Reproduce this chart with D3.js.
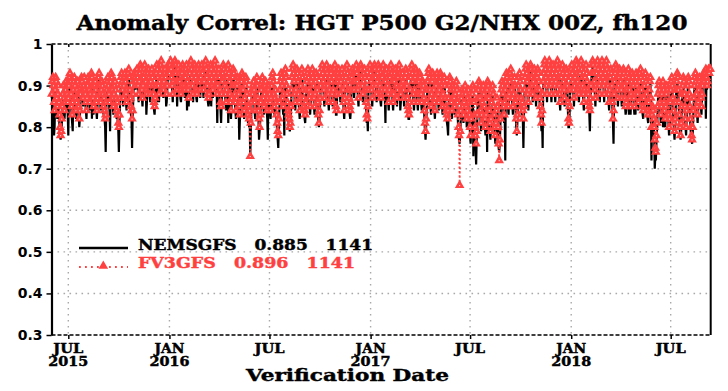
<!DOCTYPE html>
<html>
<head>
<meta charset="utf-8">
<script src="https://cdn.jsdelivr.net/npm/d3@7"></script>
<style>
  body { margin: 0; background: #fff; }
</style>
</head>
<body>
<div id="chart"></div>
<script>
// daily anomaly correlation x100, one month per line
// each year's array starts on Jan 1 (2015 starts on Jun 1)
const fv3_2015 = [
  88,91,92,90,86,84,89,92,91,87,85,88,90,86,83,80,78,79,82,85,88,90,87,84,86,89,91,90,88,86,
  87,90,92,93,91,88,85,83,86,89,91,92,90,87,84,86,89,91,88,85,82,84,88,90,92,91,89,87,90,92,89,
  88,86,84,87,90,92,91,89,86,88,91,93,92,90,87,85,88,90,91,89,86,84,87,90,92,93,90,88,86,89,91,
  90,88,85,87,84,82,83,86,89,91,92,90,88,86,89,91,93,92,89,87,85,88,90,91,89,87,84,86,83,81,
  80,83,87,90,92,93,91,89,87,90,92,93,91,88,86,89,92,93,94,92,89,87,85,84,82,84,88,91,93,92,90,
  91,93,94,92,90,88,91,93,95,94,92,89,87,90,92,94,95,93,91,89,88,90,93,94,92,90,88,91,93,94,
  92,90,88,86,85,87,90,93,95,94,92,90,88,91,93,95,96,94,92,90,89,91,93,94,92,90,88,90,93,95,94
]
const fv3_2016 = [
  93,95,96,94,92,90,88,91,93,95,96,95,93,91,89,91,94,95,93,91,89,88,90,93,95,94,92,90,89,92,94,
  95,93,91,89,87,90,93,95,96,94,92,90,88,91,93,95,94,92,89,88,91,94,95,93,91,89,92,94,95,
  93,91,89,91,94,95,96,94,92,90,88,87,88,91,93,95,94,92,90,89,91,93,95,96,94,92,90,88,90,93,94,
  92,89,86,85,88,91,93,95,94,92,90,88,86,89,92,94,95,93,91,88,86,84,87,90,92,94,93,90,88,86,
  84,87,90,92,91,88,85,83,86,89,91,93,92,89,86,84,87,90,92,91,88,85,83,85,82,84,73,81,86,89,88,
  90,91,89,86,84,87,90,92,90,87,84,82,80,83,86,89,91,92,90,87,85,88,90,91,89,86,84,87,89,90,
  88,86,84,87,90,92,93,91,88,85,87,89,86,83,81,79,78,82,86,89,91,93,92,90,87,85,88,91,93,94,92,
  90,88,86,84,83,82,80,81,85,89,92,94,95,93,91,88,86,89,92,94,93,91,88,86,84,87,90,93,94,92,89,
  87,85,84,83,86,89,91,93,94,92,89,87,85,88,91,93,94,92,90,87,85,88,91,93,92,89,86,83,81,84,
  87,90,92,94,95,93,91,89,87,90,92,94,95,93,90,88,86,89,92,94,93,91,88,86,89,92,94,95,93,85,84,
  88,91,93,94,92,90,88,91,93,94,92,89,86,84,87,90,92,94,95,93,91,89,87,85,84,86,89,92,94,93,
  91,89,91,93,94,95,93,91,89,87,90,92,94,95,94,92,90,88,91,93,94,92,89,86,83,82,85,89,92,94,95
]
const fv3_2017 = [
  93,91,89,87,90,92,94,95,94,92,90,88,91,93,95,94,92,90,88,87,89,92,94,95,93,91,89,91,93,94,92,
  90,88,86,89,92,94,95,93,91,88,86,88,91,93,94,92,90,87,89,92,94,95,93,90,88,90,92,93,
  91,89,87,90,92,94,93,90,87,85,84,83,86,89,92,94,95,93,91,88,86,89,92,94,93,91,88,86,88,91,93,
  92,90,88,86,89,91,90,87,84,81,79,82,86,89,91,93,94,92,89,87,85,88,91,93,92,89,86,84,87,90,
  92,93,91,88,86,89,91,93,92,90,87,85,88,91,92,90,87,85,84,83,82,84,87,90,92,91,89,86,84,87,90,
  89,87,85,88,90,91,89,86,83,80,78,66,79,84,87,89,88,85,83,86,89,90,88,85,82,84,87,89,86,83,
  80,78,82,86,88,90,89,86,83,80,78,76,79,83,87,89,91,90,87,84,81,83,86,89,90,88,85,82,80,83,87,
  89,91,90,87,84,81,79,82,86,89,90,88,85,83,80,78,81,84,87,85,80,76,72,77,82,86,89,91,90,88,85,
  83,86,89,91,93,92,90,87,85,88,91,93,94,92,89,87,85,88,90,92,90,86,82,79,83,87,90,92,93,91,
  89,87,85,86,84,82,85,89,92,94,95,93,91,88,86,89,92,94,95,94,92,90,88,91,93,94,92,90,87,89,92,
  94,93,91,89,87,85,83,81,84,88,91,93,95,96,94,92,90,88,91,93,95,96,94,92,90,88,91,93,95,94,
  92,90,88,91,93,95,96,94,92,90,88,86,89,92,94,95,93,91,89,87,90,92,94,93,90,86,82,81,85,89,92
]
const fv3_2018 = [
  94,95,93,91,89,87,90,92,94,96,95,93,91,89,88,90,93,95,96,94,92,90,88,86,89,92,94,95,93,91,89,
  88,86,85,84,87,90,93,95,96,95,93,91,89,87,90,93,95,96,94,92,90,88,91,93,95,96,94,92,
  90,88,91,93,95,96,94,92,90,88,86,89,92,94,93,90,86,82,84,88,91,93,95,94,92,89,87,90,92,94,93,
  91,89,87,90,92,94,93,90,87,85,86,89,91,93,94,92,89,87,85,88,91,93,92,90,87,85,88,91,93,92,
  90,88,86,89,91,93,94,92,89,87,85,84,87,90,92,93,91,88,86,84,83,86,89,91,92,87,80,83,85,84,82,
  80,77,75,74,78,81,85,88,90,91,89,86,83,85,88,90,91,89,86,84,82,85,88,90,89,86,83,80,82,86,
  89,91,92,90,87,84,81,79,82,86,89,91,93,92,89,86,83,80,78,81,85,88,90,92,91,88,85,82,80,84,87,
  90,92,91,88,85,82,80,78,77,80,84,87,90,92,93,91,88,85,83,86,89,91,92,90,87,85,88,90,92,93,91,
  92,93,94,92,90,91,93,94,93,94,94
]

const nems_2015 = [
  87,89,90,88,78,80,86,90,90,85,82,86,88,84,80,78,77,78,80,83,86,88,85,82,84,87,89,88,86,83,
  78,88,91,92,90,86,83,81,79,87,90,91,89,85,82,84,88,90,86,83,80,82,86,89,91,90,88,85,88,91,87,
  86,84,82,85,89,91,90,87,84,86,90,92,82,89,85,83,86,89,90,87,84,82,85,89,91,92,88,86,84,87,90,
  89,86,83,85,82,80,74,84,88,90,91,89,86,84,79,90,92,91,88,85,83,86,89,90,88,85,82,84,81,79,
  74,81,85,89,91,92,90,87,85,89,91,92,90,86,84,87,91,92,93,91,87,85,83,82,75,82,86,90,92,91,89,
  90,92,93,91,88,86,90,92,94,93,91,87,85,89,91,93,94,92,90,83,86,89,92,93,91,88,86,90,92,93,
  91,89,86,84,83,86,89,92,94,93,86,89,86,90,92,94,95,93,91,89,87,90,92,93,91,85,86,89,92,94,93
]
const nems_2016 = [
  92,94,95,93,91,89,86,90,92,94,95,94,92,90,85,90,93,94,92,90,87,86,89,92,94,93,91,89,87,91,93,
  94,84,90,87,85,89,92,94,95,93,91,89,86,90,92,94,93,91,87,86,90,93,94,92,90,87,91,93,94,
  92,90,87,90,93,94,95,93,91,89,86,85,86,90,92,94,85,91,89,87,90,92,94,95,93,91,89,81,89,92,93,
  91,88,84,81,86,90,92,94,93,91,89,86,84,88,91,93,81,92,90,86,84,82,85,89,91,93,92,89,86,84,
  82,85,89,91,90,86,77,81,84,88,90,92,91,87,84,82,85,89,91,90,86,83,81,83,80,82,73,79,84,88,86,
  89,90,87,84,82,85,89,91,89,85,82,77,79,81,84,88,90,91,89,85,83,86,89,90,88,84,82,77,88,89,
  87,84,82,85,89,91,92,90,86,83,85,88,84,81,79,77,75,80,84,88,90,92,91,89,85,83,86,78,92,93,91,
  89,86,84,82,81,80,79,80,83,88,91,93,94,92,90,86,84,88,91,93,92,90,86,84,82,85,89,92,93,91,88,
  84,83,82,81,84,88,90,92,93,91,87,85,83,86,90,92,93,91,89,85,83,86,90,92,91,87,84,81,80,82,
  85,89,91,93,94,92,90,87,85,89,91,93,94,92,89,86,84,88,91,93,92,90,86,85,87,91,93,94,92,83,83,
  87,90,92,93,91,89,86,90,92,93,91,87,84,82,85,89,91,93,94,92,90,87,85,83,82,84,88,91,93,92,
  90,87,90,92,93,94,92,90,87,85,89,91,93,94,93,91,89,86,90,92,93,91,87,84,81,82,79,88,91,93,94
]
const nems_2017 = [
  92,90,87,85,89,91,93,94,93,91,89,86,90,92,94,93,91,89,86,85,88,91,93,94,92,90,87,81,92,93,91,
  89,86,84,88,91,93,94,92,90,86,84,87,90,92,93,91,89,85,88,91,93,94,92,84,86,89,91,92,
  90,88,85,89,91,93,92,89,85,83,82,82,84,88,91,93,94,92,90,86,84,88,91,93,92,90,86,84,87,90,92,
  91,89,86,84,88,90,89,85,82,79,77,80,84,88,90,92,93,91,88,85,83,87,90,92,91,88,84,82,86,89,
  91,92,90,86,84,88,90,92,91,89,85,83,87,90,91,89,85,83,82,81,80,78,85,89,91,90,88,84,82,86,89,
  88,85,83,87,89,90,88,84,81,78,77,76,78,82,86,88,87,83,81,85,88,89,87,83,80,82,86,88,84,81,
  78,76,80,85,87,89,73,84,81,78,75,71,77,81,86,88,90,89,85,82,79,81,85,88,89,86,83,80,78,81,85,
  74,90,89,85,82,79,77,80,84,88,89,86,83,81,78,76,79,82,86,83,78,75,74,76,80,85,88,90,89,86,83,
  81,84,72,90,92,91,89,85,83,87,90,92,93,91,88,85,83,87,89,91,89,84,80,78,81,86,89,91,92,90,
  88,85,83,84,82,75,83,88,91,93,94,92,90,86,84,88,91,93,94,93,91,89,86,90,92,93,91,89,85,88,91,
  93,92,90,87,85,83,81,79,82,75,90,92,94,95,93,91,89,86,90,92,94,95,93,91,89,86,90,92,94,93,
  91,89,86,90,92,94,95,93,91,89,86,84,88,91,93,94,92,90,88,85,89,91,93,92,89,84,80,80,83,88,91
]
const nems_2018 = [
  93,94,92,90,88,85,89,91,93,95,94,92,90,88,86,89,92,94,95,93,91,89,86,84,88,91,93,94,92,90,88,
  87,85,83,79,86,89,92,94,95,94,92,90,88,85,89,92,94,95,93,91,89,86,90,92,94,95,93,91,
  89,86,90,92,94,95,93,91,89,86,84,88,91,93,92,89,84,81,76,86,90,92,94,93,91,88,85,89,91,93,92,
  90,88,85,89,91,93,92,89,85,83,84,88,90,92,93,83,88,85,83,87,90,92,91,89,85,83,86,83,92,91,
  89,86,84,88,90,92,93,91,88,85,83,82,86,89,91,92,90,86,84,82,81,85,88,90,91,85,72,81,83,82,80,
  78,70,73,72,76,79,83,87,89,90,88,84,81,83,87,89,80,88,84,82,80,83,87,89,88,84,81,78,80,84,
  88,90,91,89,85,82,79,77,80,84,88,90,92,91,88,84,81,78,77,79,83,87,89,91,90,86,83,80,78,82,86,
  89,91,90,86,83,80,78,77,76,78,82,86,89,91,92,90,86,83,81,84,88,90,91,89,85,83,87,89,91,92,90,
  91,92,82,91,89,90,92,93,92,93,93
]

const seriesNames = ['NEMSGFS', 'FV3GFS']
const seriesMeans = ['0.885', '0.896']
const seriesCounts = ['1141', '1141']
const yTicks = [0.3, 0.4, 0.5, 0.6, 0.7, 0.8, 0.9, 1]
const xTicks = ['2015-07-01', '2016-01-01', '2016-07-01', '2017-01-01', '2017-07-01', '2018-01-01', '2018-07-01']
const xMonthLabels = ['JUL', 'JAN', 'JUL', 'JAN', 'JUL', 'JAN', 'JUL']
const xYearLabels = ['2015', '2016', '', '2017', '', '2018', '']

const RED = '#ff4040'
const SERIF = '"DejaVu Serif", "Liberation Serif", serif'

function toSeries(parts) {
  const out = []
  parts.forEach(([start, vals]) => {
    const t0 = Date.parse(start)
    vals.forEach((v, i) => out.push({ date: new Date(t0 + i * 864e5), value: v / 100 }))
  })
  return out
}

const nems = toSeries([['2015-06-01', nems_2015], ['2016-01-01', nems_2016], ['2017-01-01', nems_2017], ['2018-01-01', nems_2018]])
const fv3 = toSeries([['2015-06-01', fv3_2015], ['2016-01-01', fv3_2016], ['2017-01-01', fv3_2017], ['2018-01-01', fv3_2018]])

var svg = d3
  .select('#chart')
  .append('svg')
  .attr('width', 728)
  .attr('height', 391)
  .style('background', '#fff')

var x = d3
  .scaleUtc()
  .domain([Date.UTC(2015, 4, 31, 10), Date.UTC(2018, 8, 11, 19)])
  .range([51.5, 710.7])

var y = d3
  .scaleLinear()
  .domain([0.3, 1])
  .range([335, 44])

const [x0, x1] = x.range()
const xTickDates = xTicks.map(d => new Date(d))

// grey dotted grid
svg.append('g')
  .selectAll('line')
  .data(yTicks.filter(d => d > 0.3 && d < 1))
  .join('line')
  .attr('x1', x0).attr('x2', x1)
  .attr('y1', d => y(d)).attr('y2', d => y(d))
  .attr('stroke', '#a9a9a9').attr('stroke-width', 1.4).attr('stroke-dasharray', '1.6,4.4')

svg.append('g')
  .selectAll('line')
  .data(xTickDates)
  .join('line')
  .attr('x1', d => x(d)).attr('x2', d => x(d))
  .attr('y1', y(1)).attr('y2', y(0.3))
  .attr('stroke', '#a9a9a9').attr('stroke-width', 1.4).attr('stroke-dasharray', '1.6,4.4')

// frame: dashed top and bottom, solid right
svg.append('line')
  .attr('x1', x0).attr('x2', x1).attr('y1', y(1)).attr('y2', y(1))
  .attr('stroke', '#000').attr('stroke-width', 1.6).attr('stroke-dasharray', '4,2')
svg.append('line')
  .attr('x1', x0).attr('x2', x1).attr('y1', y(0.3)).attr('y2', y(0.3))
  .attr('stroke', '#000').attr('stroke-width', 1.6).attr('stroke-dasharray', '4,2')
svg.append('line')
  .attr('x1', x1).attr('x2', x1).attr('y1', y(1)).attr('y2', y(0.3))
  .attr('stroke', '#000').attr('stroke-width', 2)

// x axis ticks (bottom and top)
svg.append('g')
  .attr('transform', `translate(0,${y(0.3)})`)
  .call(d3.axisBottom(x).tickValues(xTickDates).tickSize(4).tickSizeOuter(0).tickFormat(''))
  .call(g => g.select('.domain').remove())
  .call(g => g.selectAll('.tick line').attr('stroke-width', 1.5))
svg.append('g')
  .attr('transform', `translate(0,${y(1)})`)
  .call(d3.axisBottom(x).tickValues(xTickDates).tickSize(3).tickSizeOuter(0).tickFormat(''))
  .call(g => g.select('.domain').remove())
  .call(g => g.selectAll('.tick line').attr('stroke-width', 1.5))

// month / year labels, one text per tick with two lines
const xLab = svg.append('g')
  .attr('font-family', SERIF).attr('font-weight', 'bold').attr('font-size', 13)
  .attr('text-anchor', 'middle').attr('stroke', '#000').attr('stroke-width', 0.45)
  .selectAll('text')
  .data(xTickDates)
  .join('text')
  .attr('y', 353)
xLab.append('tspan')
  .attr('x', d => x(d))
  .attr('textLength', 30).attr('lengthAdjust', 'spacingAndGlyphs')
  .text((d, i) => xMonthLabels[i])
xLab.filter((d, i) => xYearLabels[i])
  .append('tspan')
  .attr('x', d => x(d)).attr('dy', 12.5)
  .attr('textLength', 40).attr('lengthAdjust', 'spacingAndGlyphs')
  .text(d => xYearLabels[xTickDates.indexOf(d)])

svg.append('text')
  .attr('x', 347.5).attr('y', 381)
  .attr('text-anchor', 'middle')
  .attr('font-family', SERIF).attr('font-weight', 'bold').attr('font-size', 16)
  .attr('stroke', '#000').attr('stroke-width', 0.4)
  .attr('textLength', 203).attr('lengthAdjust', 'spacingAndGlyphs')
  .text('Verification Date')

// y axis
svg.append('g')
  .attr('transform', `translate(${x0},0)`)
  .call(d3.axisLeft(y).tickValues(yTicks).tickSize(5).tickSizeOuter(0).tickPadding(4)
    .tickFormat(d => d === 1 ? '1' : d3.format('.1f')(d)))
  .call(g => g.select('.domain').attr('stroke-width', 2.2))
  .call(g => g.selectAll('.tick line').attr('stroke-width', 1.5))
  .call(g => g.selectAll('.tick text')
    .attr('font-family', '"DejaVu Sans", sans-serif').attr('font-weight', 'bold')
    .attr('font-size', 14).attr('fill', '#000'))

// title
svg.append('text')
  .attr('x', 382).attr('y', 30)
  .attr('text-anchor', 'middle')
  .attr('font-family', SERIF).attr('font-weight', 'bold').attr('font-size', 20)
  .attr('stroke', '#000').attr('stroke-width', 0.4)
  .attr('textLength', 611).attr('lengthAdjust', 'spacingAndGlyphs')
  .text('Anomaly Correl: HGT P500 G2/NHX 00Z, fh120')

// series
const line = d3.line().x(d => x(d.date)).y(d => y(d.value))

svg.append('path')
  .datum(nems)
  .attr('d', line)
  .attr('fill', 'none').attr('stroke', '#000').attr('stroke-width', 2.2)

svg.append('path')
  .datum(fv3)
  .attr('d', line)
  .attr('fill', 'none').attr('stroke', RED).attr('stroke-width', 1.8).attr('stroke-dasharray', '1.8,2.6')

const tri = d3.symbol().type(d3.symbolTriangle).size(40)

const marks = svg.append('g')
  .selectAll('g')
  .data(fv3)
  .join('g')
  .attr('transform', d => `translate(${x(d.date)},${y(d.value)})`)
marks.append('path').attr('d', tri).attr('fill', RED)
marks.append('rect').attr('x', -0.5).attr('y', -0.2).attr('width', 1).attr('height', 1).attr('fill', '#fff')

// legend
const lg = svg.append('g')
lg.append('line')
  .attr('x1', 79).attr('x2', 128).attr('y1', 248).attr('y2', 248)
  .attr('stroke', '#000').attr('stroke-width', 2.6)
lg.append('line')
  .attr('x1', 79).attr('x2', 128).attr('y1', 267).attr('y2', 267)
  .attr('stroke', RED).attr('stroke-width', 1.8).attr('stroke-dasharray', '1.8,4.2')
lg.append('path')
  .attr('transform', 'translate(103.3,266)')
  .attr('d', tri).attr('fill', RED)

const legendRows = [
  { text: `${seriesNames[0]}   ${seriesMeans[0]}   ${seriesCounts[0]}`, y: 250, len: 235, color: '#000' },
  { text: `${seriesNames[1]}   ${seriesMeans[1]}   ${seriesCounts[1]}`, y: 268, len: 217, color: RED }
]
lg.selectAll('text')
  .data(legendRows)
  .join('text')
  .attr('x', 138).attr('y', d => d.y)
  .attr('font-family', SERIF).attr('font-weight', 'bold').attr('font-size', 14)
  .attr('fill', d => d.color).attr('stroke', d => d.color).attr('stroke-width', 0.4)
  .attr('textLength', d => d.len).attr('lengthAdjust', 'spacingAndGlyphs')
  .style('white-space', 'pre')
  .text(d => d.text)
</script>
</body>
</html>
